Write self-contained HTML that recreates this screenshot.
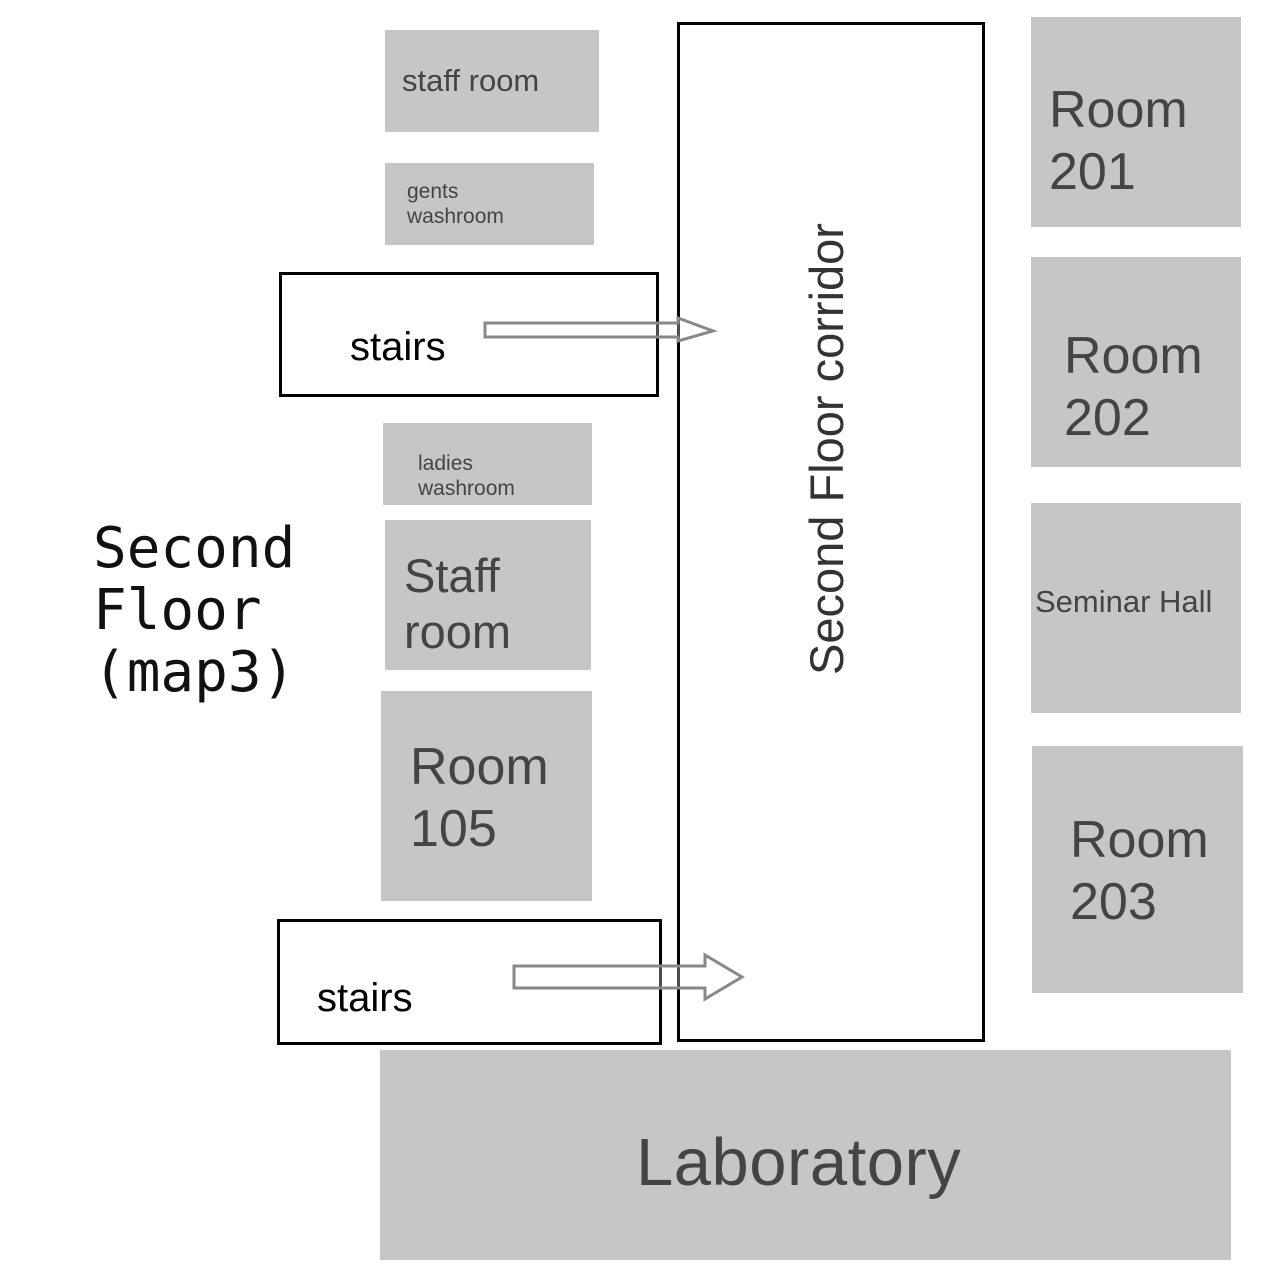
<!DOCTYPE html>
<html><head><style>
body{margin:0;width:1280px;height:1280px;background:#fff;position:relative;overflow:hidden;font-family:"Liberation Sans","DejaVu Sans",sans-serif;}
.g{position:absolute;background:#c6c6c6;color:#444;}
.b{position:absolute;border:3px solid #000;box-sizing:border-box;}
.t{position:absolute;white-space:nowrap;line-height:1.2;}
</style></head><body>
<div class="g" style="left:385px;top:30px;width:214px;height:102px"><div class="t" style="left:17px;top:32px;font-size:31px">staff room</div></div>
<div class="g" style="left:385px;top:163px;width:209px;height:82px"><div class="t" style="left:22px;top:16px;font-size:21px;line-height:25px">gents<br>washroom</div></div>
<div class="g" style="left:383px;top:423px;width:209px;height:82px"><div class="t" style="left:35px;top:28px;font-size:21px;line-height:25px">ladies<br>washroom</div></div>
<div class="g" style="left:385px;top:520px;width:206px;height:150px"><div class="t" style="left:19px;top:28px;font-size:47px;line-height:56px">Staff<br>room</div></div>
<div class="g" style="left:381px;top:691px;width:211px;height:210px"><div class="t" style="left:29px;top:45px;font-size:52px;line-height:62px">Room<br>105</div></div>
<div class="g" style="left:1031px;top:17px;width:210px;height:210px"><div class="t" style="left:18px;top:62px;font-size:52px;line-height:62px">Room<br>201</div></div>
<div class="g" style="left:1031px;top:257px;width:210px;height:210px"><div class="t" style="left:33px;top:68px;font-size:52px;line-height:62px">Room<br>202</div></div>
<div class="g" style="left:1031px;top:503px;width:210px;height:210px"><div class="t" style="left:4px;top:80px;font-size:31px">Seminar Hall</div></div>
<div class="g" style="left:1032px;top:746px;width:211px;height:247px"><div class="t" style="left:38px;top:63px;font-size:52px;line-height:62px">Room<br>203</div></div>
<div class="g" style="left:380px;top:1050px;width:851px;height:210px"><div class="t" style="left:256px;top:73px;font-size:67px;letter-spacing:0.5px">Laboratory</div></div>
<div class="b" style="left:677px;top:22px;width:308px;height:1020px"></div>
<div class="t" style="left:827px;top:449px;font-size:47px;color:#333;transform:translate(-50%,-50%) rotate(-90deg)">Second Floor corridor</div>
<div class="b" style="left:279px;top:272px;width:380px;height:125px"><div class="t" style="left:68px;top:48px;font-size:40px">stairs</div></div>
<div class="b" style="left:277px;top:919px;width:385px;height:126px"><div class="t" style="left:37px;top:52px;font-size:40px">stairs</div></div>
<svg style="position:absolute;left:0;top:0" width="1280" height="1280">
<polygon points="485,323 678,323 678,318 713,331 678,341 678,337 485,337" fill="#fff" fill-opacity="0.3" stroke="#888" stroke-width="3"/>
<polygon points="514,966 705,966 705,955 742,977 705,999 705,988 514,988" fill="#fff" fill-opacity="0.3" stroke="#888" stroke-width="3"/>
</svg>
<div class="t" style="left:93px;top:518px;font-size:56px;line-height:62px;font-family:'DejaVu Sans Mono',monospace;color:#111">Second<br>Floor<br>(map3)</div>
</body></html>
